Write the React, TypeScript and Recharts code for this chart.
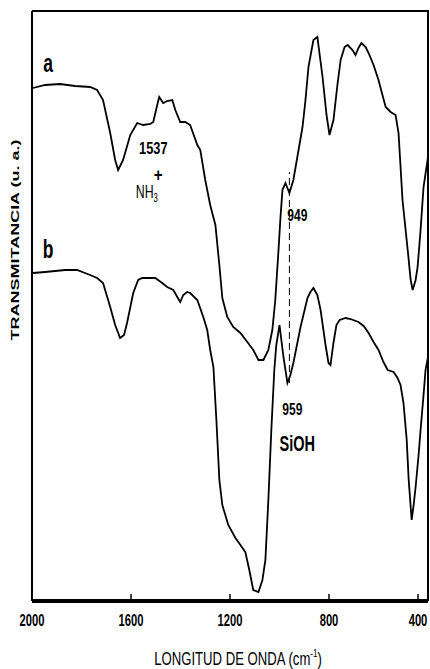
import React from 'react';
import { LineChart, Line, XAxis, YAxis, ReferenceLine, ReferenceDot } from 'recharts';

// Spectrum a (wavenumber cm-1, transmittance a.u.)
const waveA = [1996, 1947, 1887, 1826, 1765, 1737, 1713, 1684, 1664, 1652, 1632, 1603, 1575, 1551, 1522, 1510, 1494, 1486, 1470, 1454, 1433, 1421, 1401, 1381, 1361, 1332, 1320, 1300, 1280, 1259, 1243, 1231, 1211, 1187, 1158, 1130, 1106, 1085, 1065, 1045, 1029, 1017, 1004, 996, 988, 976, 968, 960, 944, 923, 907, 895, 883, 863, 847, 826, 810, 798, 782, 766, 753, 737, 725, 705, 693, 681, 669, 652, 640, 620, 600, 584, 571, 551, 531, 519, 503, 482, 470, 462, 450, 442, 430, 418, 400];
const transA = [513, 516, 517, 515, 514, 511, 501, 468, 441, 431, 441, 466, 478, 476, 477, 479, 496, 504, 498, 500, 501, 491, 479, 479, 476, 456, 451, 421, 396, 376, 336, 303, 284, 274, 268, 259, 251, 241, 241, 251, 271, 301, 351, 384, 411, 418, 413, 408, 421, 451, 474, 501, 534, 561, 564, 524, 486, 466, 481, 516, 541, 554, 556, 551, 546, 553, 558, 554, 548, 536, 521, 506, 494, 489, 486, 468, 401, 351, 321, 311, 321, 334, 371, 414, 444];

// Spectrum b
const waveB = [1996, 1947, 1907, 1866, 1818, 1786, 1765, 1737, 1713, 1684, 1664, 1644, 1628, 1616, 1591, 1571, 1555, 1502, 1474, 1454, 1429, 1413, 1401, 1389, 1373, 1361, 1332, 1308, 1292, 1280, 1267, 1255, 1243, 1231, 1207, 1178, 1158, 1138, 1122, 1106, 1085, 1069, 1057, 1045, 1033, 1021, 1013, 1000, 984, 968, 956, 944, 915, 887, 875, 863, 847, 834, 814, 802, 794, 782, 770, 757, 733, 713, 681, 660, 640, 620, 600, 580, 563, 539, 523, 511, 499, 486, 478, 466, 458, 450, 438, 430, 418, 410, 400];
const transB = [328, 329, 330, 331, 331, 328, 326, 323, 318, 294, 276, 263, 266, 278, 308, 321, 323, 323, 318, 314, 311, 304, 299, 306, 309, 308, 301, 284, 271, 251, 234, 181, 121, 96, 76, 63, 56, 49, 31, 11, 9, 21, 41, 101, 171, 231, 256, 276, 244, 218, 226, 238, 274, 303, 309, 313, 306, 291, 256, 238, 236, 258, 276, 281, 283, 282, 279, 275, 268, 259, 251, 239, 231, 229, 223, 216, 198, 161, 121, 81, 96, 114, 146, 171, 206, 231, 244];

const xTicks = [2000, 1600, 1200, 800, 400];
const xDomain = [400, 2000];
const yDomain = [0, 590];

const dataA = waveA.map((w, i) => ({ w, t: transA[i] }));
const dataB = waveB.map((w, i) => ({ w, t: transB[i] }));

const CHART_W = 430;
const CHART_H = 669;
const MARGIN = { top: 11, right: 2, bottom: 0, left: 0 };

const FONT = 'Liberation Sans, Arial, sans-serif';

function CText({ x, y, sx = 1, size, bold = false, children }: any) {
  return (
    <text
      transform={`translate(${x},${y}) scale(${sx},1)`}
      textAnchor="middle"
      dominantBaseline="central"
      fontFamily={FONT}
      fontSize={size}
      fontWeight={bold ? 'bold' : 'normal'}
      fill="#000"
    >
      {children}
    </text>
  );
}

const makeShape = (txt: any, size: number, sx: number, bold = true) => (p: any) => (
  <CText x={p.cx} y={p.cy} sx={sx} size={size} bold={bold}>{txt}</CText>
);

const XTick = (p: any) => {
  const { x, y, payload } = p;
  return (
    <g>
      <line x1={x} x2={x} y1={y - 7} y2={y} stroke="#000" strokeWidth={1.5} />
      <CText x={x} y={y + 19} sx={0.7} size={16} bold>{payload.value}</CText>
    </g>
  );
};

export default function App() {
  return (
    <div style={{ position: 'absolute', left: 0, top: 0, width: CHART_W, height: CHART_H, background: '#fff' }}>
      <LineChart width={CHART_W} height={CHART_H} margin={MARGIN}>
        <XAxis
          dataKey="w"
          type="number"
          domain={xDomain}
          reversed
          ticks={xTicks}
          allowDataOverflow
          height={68}
          tickSize={0}
          tickMargin={0}
          tickLine={false}
          axisLine={{ stroke: '#000', strokeWidth: 4 }}
          tick={<XTick />}
          label={{
            content: (p: any) => {
              const vb = p.viewBox || {};
              const left = Number(vb.x) || 32;
              const bottom = Number(vb.y) || 601;
              return (
                <g>
                  <path
                    d={`M${left},${MARGIN.top} L${CHART_W - MARGIN.right},${MARGIN.top} L${CHART_W - MARGIN.right},${bottom}`}
                    fill="none"
                    stroke="#000"
                    strokeWidth={2}
                  />
                  <text
                    transform={`translate(${left + 206},${bottom + 64}) scale(0.73,1)`}
                    textAnchor="middle"
                    fontFamily={FONT}
                    fontSize={18}
                    fill="#000"
                  >
                    LONGITUD DE ONDA (cm
                    <tspan fontSize={11} dy={-8}>-1</tspan>
                    <tspan dy={8}>)</tspan>
                  </text>
                </g>
              );
            },
          }}
        />
        <YAxis
          type="number"
          domain={yDomain}
          allowDataOverflow
          width={32}
          tick={false}
          tickLine={false}
          axisLine={{ stroke: '#000', strokeWidth: 2 }}
          label={{
            content: (p: any) => {
              const vb = p.viewBox;
              return (
                <text
                  transform={`translate(${vb.x + 15},${vb.y + 229}) scale(0.6,1) rotate(-90)`}
                  textAnchor="middle"
                  dominantBaseline="central"
                  fontFamily={FONT}
                  fontSize={18}
                  fontWeight="bold"
                  fill="#000"
                >
                  TRANSMITANCIA (u. a.)
                </text>
              );
            },
          }}
        />
        <ReferenceLine
          segment={[{ x: 960, y: 218 }, { x: 960, y: 429 }]}
          stroke="#000"
          strokeWidth={1}
          strokeDasharray="7 4"
        />
        <Line data={dataA} dataKey="t" type="linear" stroke="#000" strokeWidth={1.8} dot={false} isAnimationActive={false} />
        <Line data={dataB} dataKey="t" type="linear" stroke="#000" strokeWidth={1.8} dot={false} isAnimationActive={false} />
        <ReferenceDot x={1935} y={538} r={0} shape={makeShape('a', 25, 0.7)} />
        <ReferenceDot x={1935} y={352} r={0} shape={makeShape('b', 25, 0.7)} />
        <ReferenceDot x={1510} y={453} r={0} shape={makeShape('1537', 16, 0.8)} />
        <ReferenceDot x={1490} y={427} r={0} shape={makeShape('+', 19, 0.8)} />
        <ReferenceDot
          x={1536}
          y={410}
          r={0}
          shape={(p: any) => (
            <text
              transform={`translate(${p.cx},${p.cy}) scale(0.65,1)`}
              textAnchor="middle"
              dominantBaseline="central"
              fontFamily={FONT}
              fontSize={19}
              fill="#000"
            >
              NH<tspan fontSize={12} dy={6}>3</tspan>
            </text>
          )}
        />
        <ReferenceDot x={928} y={386} r={0} shape={makeShape('949', 16, 0.75)} />
        <ReferenceDot x={948} y={192} r={0} shape={makeShape('959', 16, 0.75)} />
        <ReferenceDot x={928} y={158} r={0} shape={makeShape('SiOH', 22, 0.66)} />
      </LineChart>
    </div>
  );
}
